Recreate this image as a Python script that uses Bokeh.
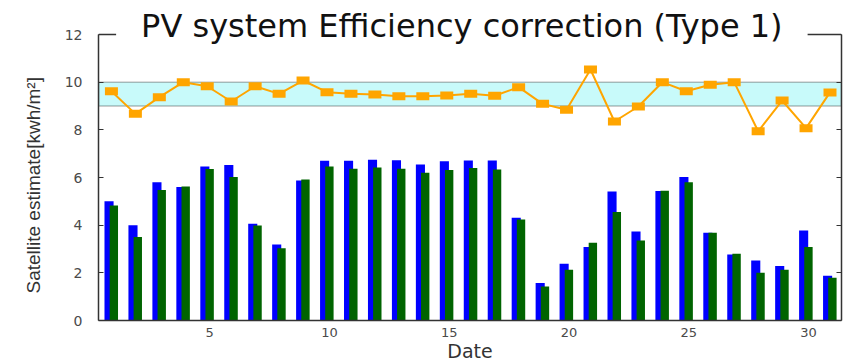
from bokeh.plotting import figure
from bokeh.models import (ColumnDataSource, BoxAnnotation, LinearAxis, Label, FixedTicker, Range1d,
                          Span, Title)
from bokeh.transform import dodge
from bokeh.embed import file_html
from bokeh.resources import INLINE

# ---- data ----
days = list(range(1, 32))
satellite = [5.0, 4.0, 5.8, 5.6, 6.46, 6.52, 4.06, 3.19, 5.87, 6.7, 6.7, 6.75, 6.72, 6.55, 6.68,
             6.71, 6.71, 4.31, 1.57, 2.38, 3.08, 5.41, 3.73, 5.43, 6.02, 3.68, 2.77, 2.52, 2.29, 3.78, 1.88]
corrected = [4.83, 3.5, 5.48, 5.62, 6.36, 6.02, 3.99, 3.03, 5.92, 6.46, 6.37, 6.42, 6.37, 6.2, 6.32,
             6.4, 6.34, 4.24, 1.43, 2.13, 3.26, 4.55, 3.36, 5.44, 5.8, 3.68, 2.8, 2.0, 2.13, 3.08, 1.79]
efficiency = [9.62, 8.67, 9.37, 10.0, 9.83, 9.19, 9.83, 9.51, 10.07, 9.58, 9.51, 9.48, 9.41, 9.41, 9.44,
              9.51, 9.43, 9.79, 9.09, 8.84, 10.53, 8.35, 8.98, 10.0, 9.62, 9.89, 10.0, 7.94, 9.23, 8.07, 9.57]
band_low, band_high = 9, 10
y_min, y_max = 0, 12
y_ticks = [0, 2, 4, 6, 8, 10, 12]
x_ticks = [5, 10, 15, 20, 25, 30]
title_text = "PV system Efficiency correction (Type 1)"
x_label = "Date"
y_label = "Satellite estimate[kwh/m\u00b2]"

src = ColumnDataSource(dict(day=days, sat=satellite, cor=corrected, eff=efficiency))

WIDE = "'DejaVu Sans', sans-serif"
AXC = "#333333"

# the frame reaches to the top of the canvas so the title can sit over the box's top edge
p = figure(width=843, height=364, output_backend="svg", toolbar_location=None,
           x_range=Range1d(0.36, 31.38), y_range=Range1d(y_min, y_max + 1.427),
           min_border_left=98, min_border_right=2, min_border_top=0, min_border_bottom=44,
           outline_line_color=None, background_fill_color="white", border_fill_color="white")
p.grid.visible = False

band = BoxAnnotation(bottom=band_low, top=band_high, fill_color="#c8fafa", fill_alpha=1.0,
                     line_color="#222222", line_width=1.5, level="underlay")
p.add_layout(band)

top_edge = Span(location=y_max, dimension="width", line_color=AXC, line_width=1.5, level="guide")
p.add_layout(top_edge)

p.vbar(x=dodge("day", -0.2, range=p.x_range), top="sat", width=0.38, bottom=0, source=src,
       fill_color="#0000ff", line_color=None)
p.vbar(x="day", top="cor", width=0.35, bottom=0, source=src,
       fill_color="#006400", line_color=None)

p.line(x=dodge("day", -0.1, range=p.x_range), y="eff", source=src, line_color="#ffa500", line_width=2)
p.rect(x=dodge("day", -0.1, range=p.x_range), y="eff", width=13, height=8,
       width_units="screen", height_units="screen", source=src,
       fill_color="#ffa500", line_color=None)

# axes
for ax in (p.yaxis[0], p.xaxis[0]):
    ax.axis_line_color = AXC
    ax.axis_line_width = 1.5
    ax.major_label_text_font = WIDE
    ax.major_label_text_font_size = "13px"
    ax.major_label_text_color = "#4a4a4a"
    ax.axis_label_text_font_style = "normal"
    ax.axis_label_text_color = "#333333"
    ax.minor_tick_line_color = None

p.yaxis[0].ticker = FixedTicker(ticks=y_ticks)
p.yaxis[0].bounds = (y_min, y_max)
p.yaxis[0].major_label_text_font_size = "14px"
p.yaxis[0].major_tick_in = 5
p.yaxis[0].major_tick_out = 0
p.yaxis[0].major_tick_line_color = AXC
p.yaxis[0].major_label_standoff = 16

# y-axis label as a side title so it can be centred on the 0-12 box rather than on the taller frame
ylab = Title(text=y_label, align="left", offset=27, standoff=35,
             text_font="'Liberation Sans', Arial, sans-serif", text_font_size="19px",
             text_font_style="normal", text_color="#333333")
p.add_layout(ylab, "left")

p.xaxis[0].ticker = FixedTicker(ticks=x_ticks)
p.xaxis[0].major_tick_in = 0
p.xaxis[0].major_tick_out = 0
p.xaxis[0].major_label_standoff = 7
p.xaxis[0].axis_label = x_label
p.xaxis[0].axis_label_text_font = WIDE
p.xaxis[0].axis_label_text_font_size = "19px"
p.xaxis[0].axis_label_standoff = 0

right = LinearAxis(ticker=FixedTicker(ticks=y_ticks), bounds=(y_min, y_max),
                   major_label_text_font_size="1px", major_label_text_color=None,
                   major_tick_in=5, major_tick_out=0, major_tick_line_color=AXC,
                   axis_line_color=AXC, axis_line_width=1.5, minor_tick_line_color=None,
                   major_label_standoff=0)
p.add_layout(right, "right")

title = Label(x=15.53, y=y_max, y_offset=9, text=title_text, text_align="center",
              text_baseline="alphabetic", text_font=WIDE, text_font_size="32px",
              text_color="#111111", background_fill_color="white", padding=(25, 25, 3, 3),
              level="overlay")
p.add_layout(title)

open("out.html", "w").write(file_html(p, INLINE))
